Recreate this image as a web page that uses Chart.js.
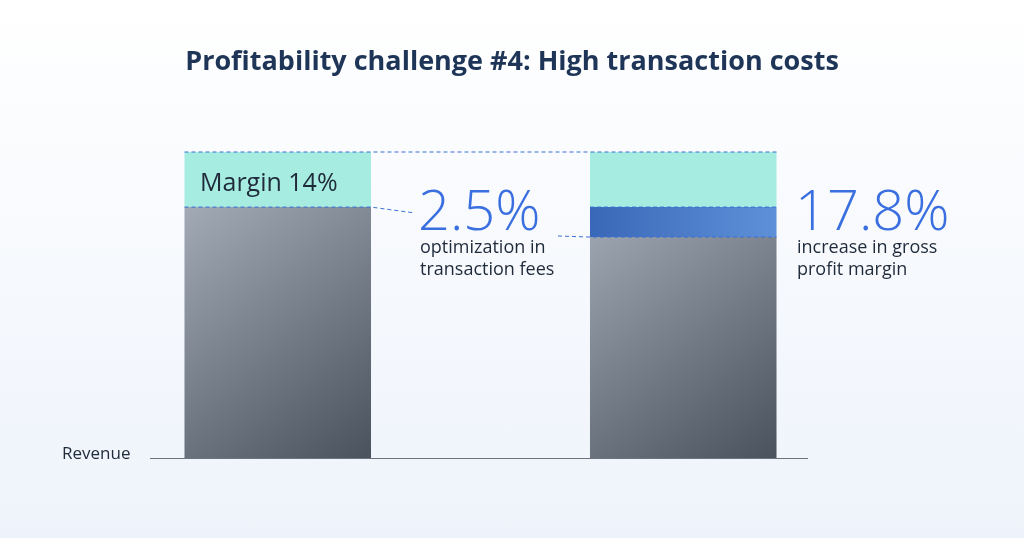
<!DOCTYPE html>
<html><head><meta charset="utf-8">
<script src="https://cdn.jsdelivr.net/npm/chart.js@4"></script>
<style>
html,body{margin:0;padding:0;width:1024px;height:538px;overflow:hidden;background:linear-gradient(180deg,#ffffff 0%,#eef3fb 100%);}
#wrap{position:absolute;left:0;top:0;width:1024px;height:538px;}
</style></head><body>
<div id="wrap"><canvas id="c"></canvas></div>
<script>
const title = 'Profitability challenge #4: High transaction costs';
const categories = ['Before', 'After'];
const costs = [82, 72.2];
const feeSavings = [0, 9.8];
const margin = [18, 18];
const axisLabel = 'Revenue';

function barCenter(ctx){
  const ch = ctx.chart, a = ch.chartArea;
  const sx = ch.scales && ch.scales.x;
  let x = sx ? sx.getPixelForValue(ctx.dataIndex) : NaN;
  if(!isFinite(x)) x = a ? (a.left+a.right)/2 : 0;
  return x;
}
function greyGrad(ctx){
  const ch = ctx.chart, a = ch.chartArea; if(!a || !isFinite(a.top)) return '#6b7480';
  const x = barCenter(ctx);
  const g = ch.ctx.createLinearGradient(x-93, a.top+60, x+93, a.bottom);
  g.addColorStop(0,'#a1a9b4'); g.addColorStop(1,'#4a525d'); return g;
}
function blueGrad(ctx){
  const ch = ctx.chart, a = ch.chartArea; if(!a || !isFinite(a.top)) return '#4a7ccc';
  const x = barCenter(ctx);
  const g = ch.ctx.createLinearGradient(x-93, 0, x+93, 0);
  g.addColorStop(0,'#3a68b8'); g.addColorStop(1,'#5e90d8'); return g;
}

const deco = {
  id:'deco',
  afterDatasetsDraw(ch){
    const c = ch.ctx, y = ch.scales.y;
    const m0 = ch.getDatasetMeta(0).data;
    const b1 = m0[0], b2 = m0[1];
    const L1 = b1.x - b1.width/2, R1 = b1.x + b1.width/2;
    const L2 = b2.x - b2.width/2, R2 = b2.x + b2.width/2;
    const yTop = y.getPixelForValue(costs[0]+margin[0]);
    const y1 = y.getPixelForValue(costs[0]);
    const y2 = y.getPixelForValue(costs[1]);
    const y0 = y.getPixelForValue(0);
    c.save();
    c.strokeStyle='#6b7280'; c.lineWidth=1;
    c.beginPath(); c.moveTo(150,y0+0.5); c.lineTo(808,y0+0.5); c.stroke();
    c.strokeStyle='#3b6fd6'; c.setLineDash([4,3]); c.lineWidth=1;
    c.beginPath(); c.moveTo(L1,yTop); c.lineTo(R2,yTop); c.stroke();
    c.beginPath(); c.moveTo(L1,y1); c.lineTo(R1,y1); c.lineTo(415,213); c.stroke();
    c.beginPath(); c.moveTo(558,236); c.lineTo(L2,y2); c.lineTo(R2,y2); c.stroke();
    c.beginPath(); c.moveTo(L2,y1); c.lineTo(R2,y1); c.stroke();
    c.setLineDash([]);
    c.textBaseline='alphabetic'; c.textAlign='left';
    c.fillStyle='#1f2a3a'; c.font='400 25px "Open Sans"';
    c.fillText('Margin 14%', 200, 191);
    c.fillStyle='#3a6fe0'; c.font='300 56px "Open Sans"';
    c.fillText('2.5%', 418, 230); c.fillText('17.8%', 795, 230);
    c.fillStyle='#1f2a3a'; c.font='400 18px "Open Sans"';
    c.fillText('optimization in', 420, 253); c.fillText('transaction fees', 420, 275);
    c.fillText('increase in gross', 797, 253); c.fillText('profit margin', 797, 275);
    c.font='400 17px "Open Sans"'; c.fillText(axisLabel, 62, 459);
    c.fillStyle='#1e3558'; c.font='700 27px "Open Sans"'; c.textAlign='center';
    c.fillText(title, 512, 70);
    c.restore();
  }
};

new Chart(document.getElementById('c'), {
  type:'bar',
  data:{labels:categories, datasets:[
    {data:costs, backgroundColor:greyGrad},
    {data:feeSavings, backgroundColor:blueGrad},
    {data:margin, backgroundColor:'#a6ece0'}
  ]},
  options:{
    responsive:true, maintainAspectRatio:false, animation:false,
    layout:{padding:{left:75, right:138, top:152, bottom:80}},
    datasets:{bar:{barPercentage:1, categoryPercentage:0.46, borderWidth:0}},
    plugins:{legend:{display:false}, tooltip:{enabled:false}},
    scales:{
      x:{stacked:true, display:false},
      y:{stacked:true, display:false, min:0, max:100}
    }
  },
  plugins:[deco]
});
</script>
</body></html>
